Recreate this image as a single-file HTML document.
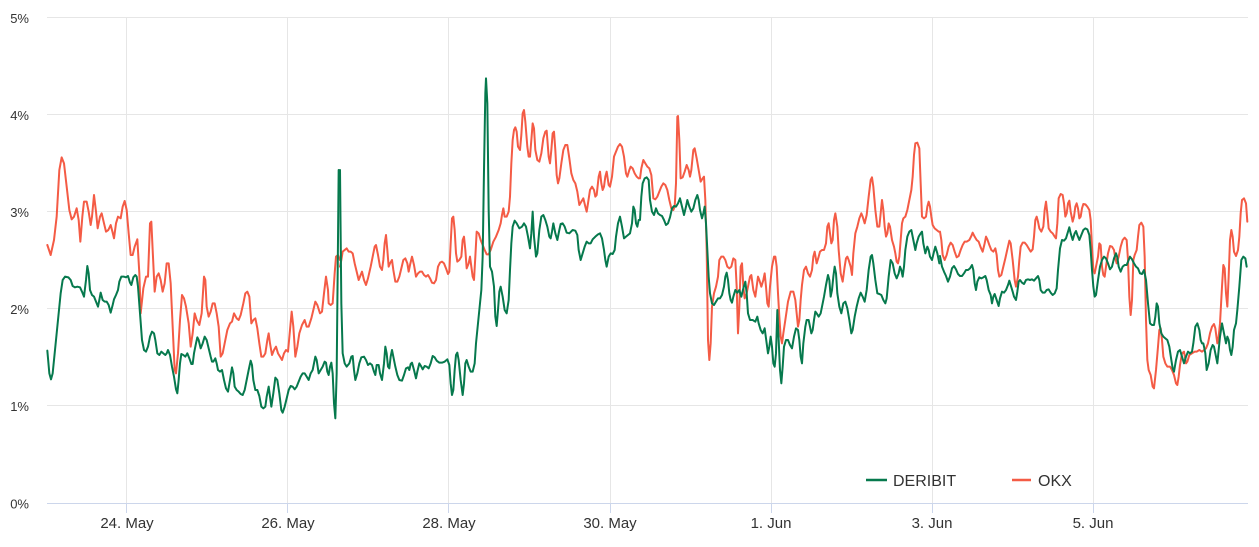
<!DOCTYPE html>
<html>
<head>
<meta charset="utf-8">
<style>
html,body{margin:0;padding:0;background:#fff;}
svg{display:block;}
text{font-family:"Liberation Sans",Arial,sans-serif;fill:#333333;}
</style>
</head>
<body>
<svg width="1259" height="547" viewBox="0 0 1259 547" xmlns="http://www.w3.org/2000/svg">
<rect x="0" y="0" width="1259" height="547" fill="#ffffff"/>
<!-- horizontal grid -->
<g stroke="#e6e6e6" stroke-width="1" shape-rendering="crispEdges">
<line x1="47" y1="17.5" x2="1248" y2="17.5"/>
<line x1="47" y1="114.5" x2="1248" y2="114.5"/>
<line x1="47" y1="211.5" x2="1248" y2="211.5"/>
<line x1="47" y1="308.5" x2="1248" y2="308.5"/>
<line x1="47" y1="405.5" x2="1248" y2="405.5"/>
</g>
<!-- vertical grid -->
<g stroke="#e6e6e6" stroke-width="1" shape-rendering="crispEdges">
<line x1="126.5" y1="17" x2="126.5" y2="503"/>
<line x1="287.5" y1="17" x2="287.5" y2="503"/>
<line x1="448.5" y1="17" x2="448.5" y2="503"/>
<line x1="610.5" y1="17" x2="610.5" y2="503"/>
<line x1="771.5" y1="17" x2="771.5" y2="503"/>
<line x1="932.5" y1="17" x2="932.5" y2="503"/>
<line x1="1093.5" y1="17" x2="1093.5" y2="503"/>
</g>
<!-- x axis -->
<g stroke="#ccd6eb" stroke-width="1" shape-rendering="crispEdges">
<line x1="47" y1="503.5" x2="1248" y2="503.5"/>
<line x1="126.5" y1="503" x2="126.5" y2="513"/>
<line x1="287.5" y1="503" x2="287.5" y2="513"/>
<line x1="448.5" y1="503" x2="448.5" y2="513"/>
<line x1="610.5" y1="503" x2="610.5" y2="513"/>
<line x1="771.5" y1="503" x2="771.5" y2="513"/>
<line x1="932.5" y1="503" x2="932.5" y2="513"/>
<line x1="1093.5" y1="503" x2="1093.5" y2="513"/>
</g>
<!-- y labels -->
<g font-size="13" text-anchor="end">
<text x="29" y="23">5%</text>
<text x="29" y="120">4%</text>
<text x="29" y="217">3%</text>
<text x="29" y="314">2%</text>
<text x="29" y="411">1%</text>
<text x="29" y="508.5">0%</text>
</g>
<!-- x labels -->
<g font-size="15" text-anchor="middle">
<text x="127" y="528">24. May</text>
<text x="288" y="528">26. May</text>
<text x="449" y="528">28. May</text>
<text x="610" y="528">30. May</text>
<text x="771" y="528">1. Jun</text>
<text x="932" y="528">3. Jun</text>
<text x="1093" y="528">5. Jun</text>
</g>

<!-- Series: OKX (red) -->
<g fill="none" stroke="#f45b45" stroke-width="6" stroke-linejoin="round" stroke-linecap="round">
<polyline transform="translate(40,140) scale(0.333333)" points="22,315 32,345 42,300 50,230 58,90 65,52 72,70 80,140 88,210 95,238 102,230 110,205 116,240 121,305 127,230 132,185 140,185 146,215 152,255 156,230 162,165 168,215 173,265 180,230 185,220 192,250 198,275 205,270 212,255 218,278 222,295 228,250 234,230 242,235 248,200 254,183 260,210 266,280 272,345 278,345 284,320 292,298 298,400 302,520 310,445 318,410 324,410 330,250 334,245 338,330 344,455 350,410 356,400 362,420 368,455 374,430 380,370 386,370 392,430 398,560 404,690 408,700 414,640 420,540 426,465 432,475 438,500 446,550 452,620 458,580 464,520 470,540 478,555 485,520 492,410 496,420 500,500 506,530 512,515 518,490 524,490 530,520 536,560 542,650 548,640 554,610 562,570 570,550 576,545 582,520 590,535 596,540 602,525 610,490 616,460 622,455 628,470 634,550 640,540 646,535 652,565 658,610 664,650 670,650 676,640 682,600 686,580 690,610 696,645 702,630 708,620 714,640 720,650 726,660 732,640 738,630 744,635 750,570 755,515 760,560 766,650 772,620 778,580 786,555 794,540 800,560 806,560 814,535 820,510 826,485 832,495 840,520 846,515 852,460 858,410 864,450 866,490 872,495 878,490 884,400 888,350 894,345 900,360"/>
<polyline transform="translate(340,70) scale(0.333333)" points="0,590 4,570 8,545 14,540 20,535 26,545 32,545 38,550 44,580 50,605 56,630 60,620 66,605 72,630 78,645 84,625 92,590 98,560 104,530 108,525 114,555 120,590 126,600 130,570 134,520 138,495 142,540 146,590 150,580 156,570 160,600 166,635 172,635 178,620 184,595 190,570 196,565 202,580 206,605 210,585 216,560 222,585 228,620 234,610 240,605 246,605 252,615 258,620 264,615 270,625 276,638 282,640 288,630 294,590 300,578 306,575 312,580 318,595 324,612 328,605 332,520 336,445 340,440 344,480 348,550 352,575 358,570 364,560 368,510 372,500 376,540 380,595 386,580 390,560 394,590 398,620 402,630 406,560 410,485 416,490 422,510 428,525 434,540 440,553 446,553 452,540 460,515 468,500 476,480 482,460 486,435 490,415 494,440 500,440 506,425 510,380 514,280 518,210 522,180 526,172 530,185 534,230 540,240 544,195 548,130 552,120 556,155 562,230 566,260 570,260 574,210 578,160 582,175 586,240 592,270 598,275 604,250 610,205 616,185 620,182 626,260 630,280 634,240 638,190 642,185 646,240 650,315 654,340 658,325 664,280 670,240 676,225 682,225 688,265 694,310 700,330 706,340 712,365 718,405 724,395 730,385 736,410 740,425 744,400 750,360 756,350 762,360 766,380 770,375 776,320 780,305 784,340 788,360 792,350 796,320 800,305 806,345 810,350 816,320 822,260 828,245 834,230 840,222 846,230 852,260 858,310 862,320 868,300 872,290 878,295 884,310 890,320 896,325"/>
<polyline transform="translate(640,100) scale(0.333333)" points="0,235 4,205 10,180 16,190 22,200 28,205 34,225 40,295 46,298 52,290 58,275 64,260 70,250 76,255 82,270 88,300 94,325 100,330 104,320 108,250 112,50 114,48 118,120 122,235 128,232 134,215 140,195 146,210 150,230 154,210 160,150 164,145 170,175 176,210 182,245 188,235 192,230 196,300 200,450 204,720 208,780 212,730 216,620 222,580 228,560 234,530 238,480 244,470 250,470 256,480 262,500 268,505 274,500 280,475 286,480 290,560 294,700 298,620 302,500 306,490 310,560 314,595 320,580 324,560 330,530 334,525 340,570 346,590 350,560 354,530 358,540 364,560 370,540 374,520 378,560 382,610 386,620 390,560 396,500 402,470 406,470 410,500 414,580 418,650 422,710 426,730 430,700 436,660 444,605 452,575 460,575 466,600 470,640 474,680 478,660 482,600 486,555 492,510 498,500 504,520 510,530 516,510 520,470 524,455 530,490 536,470 540,455 546,450 552,450 558,430 562,380 566,370 570,400 574,430 578,420 582,360 586,340 592,380 596,450 602,520 608,545 614,500 618,475 622,470 626,480 632,500 636,525 640,460 646,400 652,380 658,355 664,340 668,350 674,370 680,345 686,290 692,240 696,232 700,260 706,330 712,380 718,380 722,340 726,300 730,330 734,380 738,410 742,400 746,370 750,380 756,420 762,440 766,460 770,485 774,490 778,470 782,420 786,370 790,355 796,350 802,330 808,300 814,270 818,230 822,165 826,130 832,128 838,145 842,250 846,350 852,355 858,350 862,320 866,305 870,320 874,350 878,375 884,385 890,390 896,395"/>
<polyline transform="translate(940,170) scale(0.333333)" points="0,185 4,210 8,255 14,270 20,255 26,230 32,218 38,225 44,245 50,262 56,258 62,240 68,225 74,215 80,215 88,210 94,198 98,188 104,200 110,210 116,215 122,232 128,245 134,220 138,200 142,208 148,225 154,240 160,245 166,235 170,255 174,300 178,320 184,315 190,290 196,265 202,238 208,212 212,220 218,270 224,330 228,350 234,320 238,270 242,230 248,218 254,218 260,225 266,235 272,245 278,238 282,200 286,150 290,140 294,155 298,175 304,185 310,170 314,120 318,95 322,130 326,175 332,185 338,190 344,200 348,205 352,160 356,85 362,72 368,75 372,100 376,140 380,130 384,100 388,92 392,125 398,155 402,140 406,110 410,100 414,115 418,145 422,140 426,115 430,102 436,103 442,110 448,120 452,150 456,230 460,300 464,310 468,290 474,260 478,220 482,225 486,290 490,315 494,320 498,290 504,250 510,228 516,230 522,240 526,265 530,280 536,260 542,230 548,210 554,203 560,210 564,270 568,380 572,435 576,390 580,270 584,255 590,240 594,200 598,165 604,158 610,170 614,260 618,450 622,570 626,600 632,615 638,650 642,655 648,600 654,530 658,480 662,475 666,510 670,560 676,580 682,590 690,590 696,600 702,615 708,640 712,645 716,620 720,585 726,550 732,545 738,580 742,575 748,555 756,550 764,545 770,545 778,540 786,545 792,540 798,535 804,520 810,490 816,470 822,462 826,475 832,520 836,500 840,460 846,350 850,285 854,295 858,370 862,410 866,320 870,210 874,180 878,200 882,245 888,258 894,240 898,200 902,130 906,90 912,85 918,100 922,155"/>
</g>

<!-- Series: DERIBIT (green) -->
<g fill="none" stroke="#06794d" stroke-width="6" stroke-linejoin="round" stroke-linecap="round">
<polyline transform="translate(40,140) scale(0.333333)" points="22,632 28,700 33,718 38,700 44,640 50,580 56,520 62,460 68,420 75,410 85,412 92,420 98,438 105,442 112,440 120,442 126,455 132,470 138,420 142,378 146,400 150,450 156,465 162,470 168,485 174,500 178,480 182,458 188,480 194,485 200,485 206,495 212,518 218,495 222,478 228,465 234,450 238,425 244,410 252,410 258,412 264,408 270,428 274,435 280,412 286,405 290,410 294,440 300,520 306,600 312,630 318,635 324,620 330,590 336,575 342,580 346,600 352,640 358,645 364,635 370,640 376,645 380,640 384,630 390,645 396,680 402,710 408,748 412,760 416,720 420,670 424,642 430,645 436,650 442,640 448,655 454,672 458,672 462,640 468,610 472,592 476,600 482,625 488,610 494,590 500,600 506,625 512,650 516,665 520,665 526,655 530,670 534,690 540,695 546,690 552,720 558,745 564,755 570,720 576,682 580,700 584,740 590,750 596,755 602,762 608,765 614,750 620,720 626,690 632,662 636,675 640,720 646,750 652,750 658,768 664,800 670,805 676,800 680,770 686,740 690,770 694,800 700,760 706,713 712,720 718,760 724,810 728,818 734,800 740,775 746,750 752,738 758,740 764,748 770,740 776,725 782,710 788,700 794,700 800,710 806,720 812,700 818,690 822,670 826,650 830,660 836,700 842,690 848,680 854,665 858,668 862,695 866,705 870,680 874,668 878,700 882,790 886,835 890,700 894,300 896,90 898,100"/>
<polyline transform="translate(340,70) scale(0.333333)" points="0,300 4,700 8,850 14,880 20,890 28,880 34,860 38,858 42,900 46,930 52,910 58,880 64,862 72,860 78,870 84,885 90,880 96,885 102,905 106,915 110,885 116,885 120,910 126,930 132,880 136,830 140,850 144,890 148,895 152,860 156,840 160,860 166,890 172,915 178,930 186,932 192,915 198,895 204,892 208,900 212,882 216,878 222,900 228,925 232,905 238,880 244,890 248,898 254,888 260,890 266,895 272,880 278,858 284,862 290,872 298,878 306,878 314,875 322,868 328,885 332,940 336,975 340,960 344,900 348,855 352,848 356,870 362,930 368,975 372,940 376,880 380,870 386,890 392,905 398,905 404,880 408,820 414,760 420,700 424,660 428,560 432,300 436,70 438,25 442,100 446,420 450,590 456,605 462,650 466,740 470,768 474,720 478,665 482,650 488,680 494,720 500,730 506,690 510,600 514,520 518,470 524,452 530,460 538,475 546,470 552,460 558,470 564,500 570,535 574,490 578,425 582,500 588,560 592,550 598,480 604,440 610,435 616,450 622,470 628,500 632,505 636,485 640,460 646,490 652,510 658,480 662,462 668,460 674,470 680,488 688,490 698,480 706,482 712,495 716,540 722,570 728,550 734,530 740,515 746,520 752,520 758,508 766,500 774,493 780,490 786,505 792,540 796,570 800,590 806,560 812,550 818,552 824,540 828,500 834,460 840,440 846,470 852,505 858,500 864,495 870,490 876,460 880,410 884,420 888,460 892,470 896,450"/>
<polyline transform="translate(640,100) scale(0.333333)" points="0,360 4,290 8,250 14,235 20,232 26,240 30,300 36,335 42,345 48,325 54,340 60,345 66,348 72,360 78,375 84,370 90,352 96,325 102,318 108,320 114,310 120,295 126,320 132,345 138,320 142,300 148,320 154,335 160,325 166,300 172,285 176,300 180,330 186,355 190,340 194,320 198,370 202,450 206,530 210,580 216,610 222,615 228,605 234,595 240,595 246,585 252,560 256,530 260,518 264,540 268,580 272,600 276,608 280,590 286,570 292,578 298,570 304,590 310,565 316,545 320,580 324,640 330,660 338,660 346,665 352,650 356,670 362,690 368,700 374,685 380,730 384,760 388,740 392,710 396,740 400,790 404,800 408,760 412,630 416,720 420,810 424,850 428,800 432,740 438,720 444,720 450,735 456,745 462,710 468,685 474,690 478,720 482,770 486,790 490,730 496,680 500,660 506,660 510,680 514,700 518,690 522,660 526,635 530,640 536,650 542,640 546,620 552,590 558,555 564,525 568,540 572,590 576,570 580,530 584,500 588,520 592,580 598,620 604,640 610,610 616,605 622,625 628,660 634,700 638,690 644,650 650,620 656,595 662,578 668,590 674,605 680,570 686,510 692,470 696,465 700,490 706,540 712,580 718,582 724,585 730,600 736,610 740,595 746,530 752,480 758,490 764,520 770,535 776,520 780,500 784,510 788,530 792,500 796,450 802,410 808,395 814,390 820,420 826,450 830,430 836,410 842,400 846,395 850,430 856,460 862,440 866,450 870,470 876,480 882,455 886,440 892,460 898,490"/>
<polyline transform="translate(940,170) scale(0.333333)" points="0,258 6,290 12,305 18,318 24,335 30,320 36,295 42,288 48,298 54,312 60,318 66,318 72,310 78,300 84,300 90,295 96,285 100,300 104,340 108,360 112,335 118,322 124,325 130,322 136,318 140,330 146,360 152,375 156,400 160,380 164,372 170,390 176,408 180,385 186,365 192,368 198,360 204,345 208,332 212,345 218,365 222,380 228,390 232,365 236,335 240,330 246,338 252,342 258,330 264,328 270,330 276,328 282,332 288,325 294,318 298,330 302,360 308,368 314,368 320,360 326,358 332,368 338,375 344,370 350,355 354,300 360,235 366,210 372,212 378,205 384,185 388,172 392,190 398,210 404,190 408,183 412,195 418,210 424,195 430,180 436,175 442,178 448,195 452,240 456,300 460,350 464,380 468,375 474,330 480,290 486,270 492,260 498,265 504,280 510,298 516,290 522,265 528,250 532,262 536,290 542,305 548,290 554,285 560,285 566,270 570,260 576,268 582,280 588,290 594,295 600,310 606,312 612,300 618,330 624,400 630,460 636,465 642,465 646,440 650,400 654,410 658,460 664,490 670,500 676,505 682,510 688,530 694,570 698,595 702,605 708,570 714,545 720,540 726,560 732,580 738,560 744,545 750,550 756,545 760,520 766,470 772,460 778,480 782,510 786,520 790,520 796,550 800,600 806,580 812,540 818,525 822,530 828,560 832,580 836,540 840,500 846,460 852,490 858,520 862,500 866,510 870,540 874,555 878,530 882,480 888,460 892,420 898,350 904,270 910,260 916,265 920,290"/>
</g>

<!-- Legend -->
<g>
<line x1="866" y1="480" x2="887" y2="480" stroke="#06794d" stroke-width="2.5"/>
<text x="893" y="486" font-size="16">DERIBIT</text>
<line x1="1012" y1="480" x2="1031" y2="480" stroke="#f45b45" stroke-width="2.5"/>
<text x="1038" y="486" font-size="16">OKX</text>
</g>
</svg>
</body>
</html>
